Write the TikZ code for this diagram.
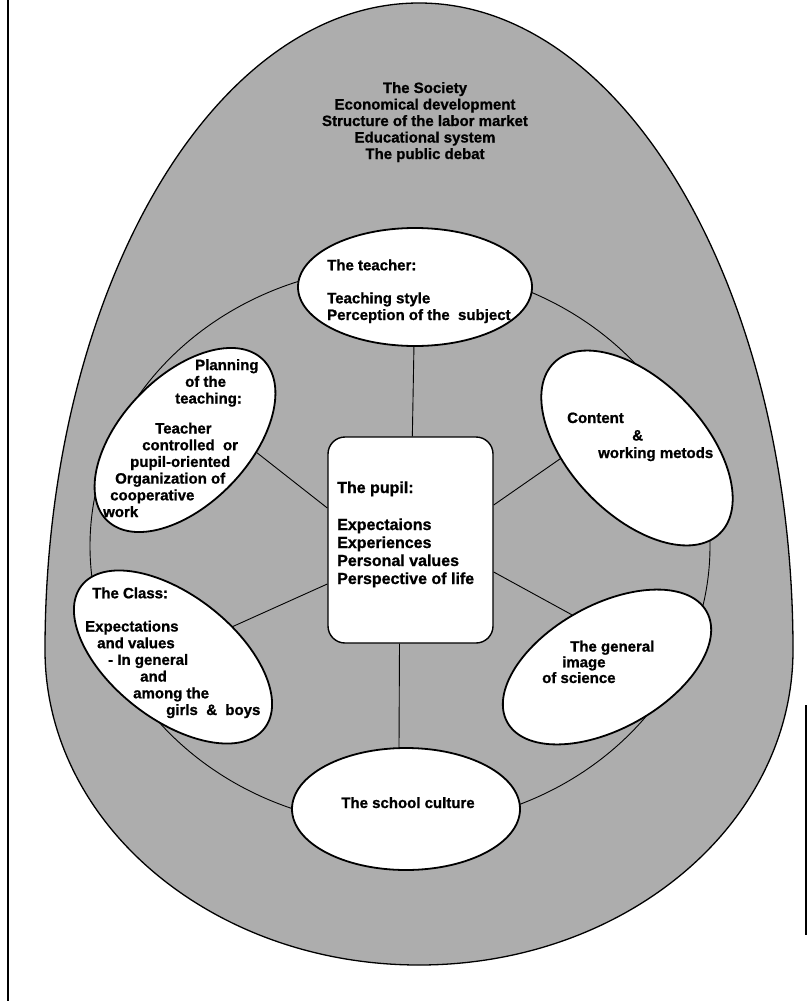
\documentclass[tikz,border=0pt]{standalone}
\usepackage{fontspec}
\newfontfamily\dfont[FakeBold=1]{Liberation Sans}
\usetikzlibrary{shapes.geometric}
\begin{document}
\begin{tikzpicture}[x=1pt,y=-1pt,
  txt/.style={inner sep=0pt, anchor=base west, align=left,
    font=\dfont\bfseries\fontsize{15}{16.7}\selectfont},
  bub/.style={ellipse, draw, fill=white, line width=1.8pt, inner sep=0pt},
  link/.style={line width=0.9pt}]
\useasboundingbox (0,0) rectangle (808,1001);
% outer society shape
\draw[fill=black!32, line width=1.3pt] (45,650)
  arc[start angle=180, end angle=0, x radius=374pt, y radius=647pt]
  arc[start angle=0, end angle=-180, x radius=374pt, y radius=315pt] -- cycle;
% page border lines
\draw[line width=1.6pt] (8,0) -- (8,1001);
\draw[line width=1.2pt] (806,705) -- (806,935);
% ring
\node[draw, ellipse, inner sep=0pt, minimum width=620pt, minimum height=560pt,
  line width=0.9pt] (ring) at (400,546) {};
% bubbles
\node[bub, minimum width=234pt, minimum height=118pt] (teacher) at (415,287) {};
\node[bub, minimum width=224pt, minimum height=128pt, rotate=46] (planning) at (185,440) {};
\node[bub, minimum width=238pt, minimum height=134pt, rotate=-46] (content) at (637,448) {};
\node[bub, minimum width=232pt, minimum height=124pt, rotate=-38] (class) at (173,657) {};
\node[bub, minimum width=228pt, minimum height=124pt, rotate=29] (general) at (607,667) {};
\node[bub, minimum width=228pt, minimum height=122pt] (school) at (406,809) {};
\node[draw, fill=white, rounded corners=17pt, line width=1.4pt, inner sep=0pt,
  minimum width=165pt, minimum height=206pt] (pupil) at (410.5,540) {};
% connectors
\draw[link] (teacher) -- (pupil);
\draw[link] ([yshift=32pt]pupil.west) -- (planning.-56);
\draw[link] ([yshift=-44pt]pupil.west) -- (class.65);
\draw[link] ([yshift=35pt]pupil.east) -- (content.-126);
\draw[link] ([yshift=-32pt]pupil.east) -- (general.95);
\draw[link] ([xshift=-11pt]pupil.south) -- ([xshift=-7pt]school.north);
% texts (anchor base = baseline of last line)
\node[txt, align=center, anchor=base, font=\dfont\bfseries\fontsize{15}{16.5}\selectfont]
  (societytext) at (425,159)
  {The Society\\Economical development\\Structure of the labor market\\Educational system\\The public debat};
\node[txt] (teachertext) at (327,320)
  {The teacher:\\[16.3pt]Teaching style\\Perception of the\ \ subject};
\node[txt, font=\dfont\bfseries\fontsize{16}{18}\selectfont] (pupiltext) at (337,584)
  {The pupil:\\[19pt]Expectaions\\Experiences\\Personal values\\Perspective of life};
\node[txt] (planningtext) at (103,517)
  {\hspace*{92pt}Planning\\\hspace*{82pt}of the\\\hspace*{72pt}teaching:\\[13.3pt]%
   \hspace*{52pt}Teacher\\\hspace*{39pt}controlled\ \ or\\\hspace*{27pt}pupil-oriented\\%
   \hspace*{12pt}Organization of\\\hspace*{7pt}cooperative\\work};
\node[txt, font=\dfont\bfseries\fontsize{15}{17.5}\selectfont] (contenttext) at (567,458)
  {Content\\\hspace*{65pt}\&\\\hspace*{31pt}working metods};
\node[txt] (classtext) at (85,715)
  {\hspace*{7pt}The Class:\\[16.5pt]Expectations\\\hspace*{12pt}and values\\%
   \hspace*{23pt}- In general\\\hspace*{55pt}and\\\hspace*{48pt}among the\\%
   \hspace*{81pt}girls \ \& \ boys};
\node[txt, font=\dfont\bfseries\fontsize{15}{15.7}\selectfont] (generaltext) at (542,683)
  {\hspace*{28pt}The general\\\hspace*{20pt}image\\of science};
\node[txt, anchor=base] (schooltext) at (408,808) {The school culture};
\end{tikzpicture}
\end{document}
